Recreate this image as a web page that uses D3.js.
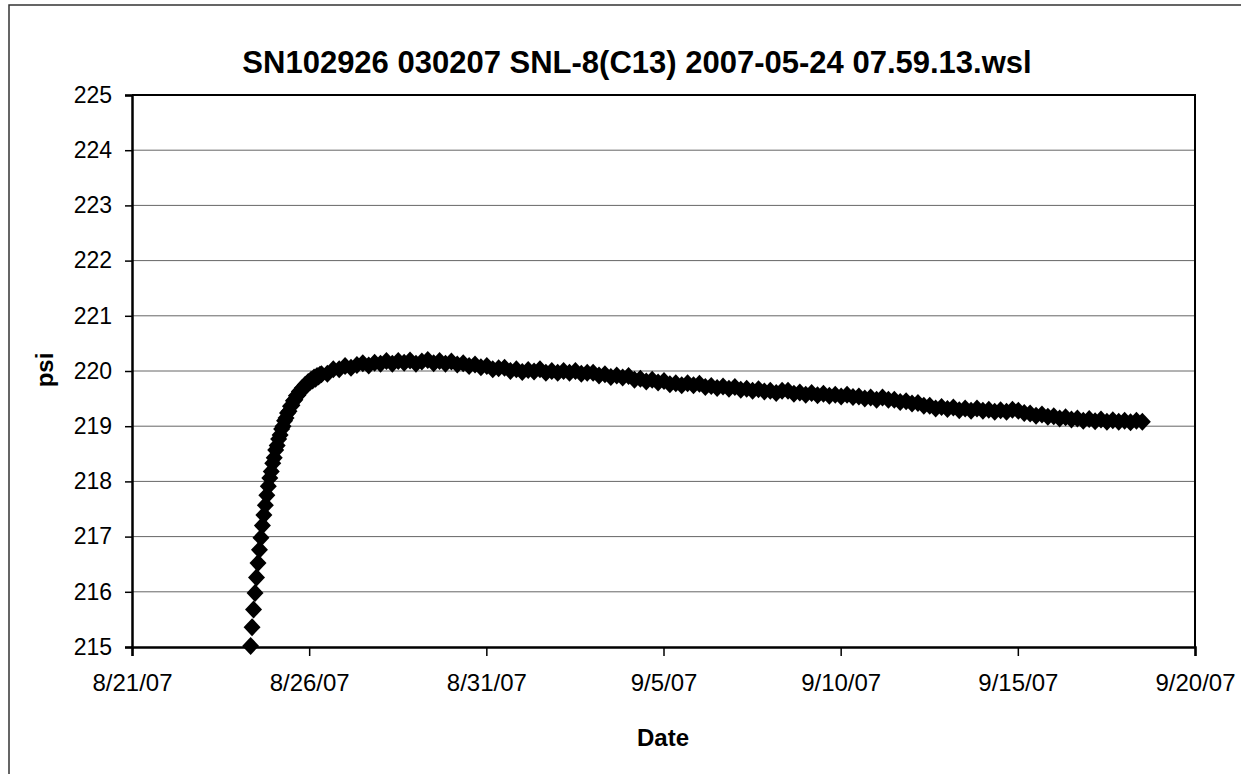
<!DOCTYPE html>
<html><head><meta charset="utf-8">
<script src="https://cdn.jsdelivr.net/npm/d3@7"></script>
<style>
body{margin:0;background:#fff}
svg{display:block}
text{font-family:Arial,"Liberation Sans",sans-serif;fill:#000}
</style>
</head><body>
<svg id="c" width="1241" height="774"></svg>
<script>
const chartTitle = "SN102926 030207 SNL-8(C13) 2007-05-24 07.59.13.wsl";
const xAxisTitle = "Date";
const yAxisTitle = "psi";
const xTickLabels = ["8/21/07","8/26/07","8/31/07","9/5/07","9/10/07","9/15/07","9/20/07"];
const yTickValues = [215,216,217,218,219,220,221,222,223,224,225];

// hourly readings during the initial rise
const riseStart = "2007-08-24T08:20";
const riseStepHours = 1;
const riseValues = [215.02,215.36,215.68,215.98,216.26,216.52,216.76,216.98,217.20,217.39,
  217.57,217.75,217.91,218.06,218.18,218.33,218.43,218.57,218.65,218.77,
  218.84,218.95,219.00,219.10,219.15,219.24,219.27,219.36,219.38,219.46,
  219.48,219.55,219.56,219.63,219.63,219.69,219.69,219.75,219.75,219.80,
  219.79,219.84,219.83,219.88,219.86,219.91,219.90,219.93];

// readings after the rise (every 4 hours)
const trendStepHours = 4;
const trendValues = [219.94,219.95,220.03,220.03,220.09,220.06,220.11,220.14,220.10,220.15,
  220.13,220.18,220.13,220.18,220.15,220.19,220.13,220.17,220.20,220.14,
  220.18,220.13,220.17,220.12,220.14,220.09,220.12,220.07,220.09,220.03,
  220.05,220.06,220.00,220.03,219.98,220.02,219.99,220.03,219.97,220.00,
  219.97,220.00,219.97,220.00,219.95,219.97,219.97,219.92,219.94,219.89,
  219.92,219.88,219.91,219.84,219.86,219.81,219.84,219.79,219.82,219.76,
  219.78,219.74,219.78,219.74,219.77,219.71,219.73,219.69,219.72,219.68,
  219.71,219.66,219.68,219.64,219.67,219.63,219.64,219.60,219.64,219.64,
  219.59,219.61,219.57,219.60,219.56,219.59,219.55,219.57,219.54,219.57,
  219.53,219.54,219.50,219.52,219.48,219.52,219.48,219.48,219.44,219.45,
  219.41,219.42,219.37,219.37,219.32,219.35,219.31,219.34,219.29,219.32,
  219.28,219.32,219.28,219.30,219.26,219.29,219.26,219.30,219.28,219.24,
  219.23,219.19,219.21,219.17,219.18,219.14,219.16,219.12,219.14,219.10,
  219.13,219.09,219.12,219.08,219.11,219.08,219.10,219.07,219.10,219.08];

const svg = d3.select("#c");
const parseTick = d3.timeParse("%m/%d/%y");
const parseStart = d3.timeParse("%Y-%m-%dT%H:%M");
const tickDates = xTickLabels.map(parseTick);

const margin = {left:132, right:1195, top:95, bottom:647};
const x = d3.scaleTime().domain([tickDates[0], tickDates[tickDates.length-1]]).range([margin.left, margin.right]);
const y = d3.scaleLinear().domain([yTickValues[0], yTickValues[yTickValues.length-1]]).range([margin.bottom, margin.top]);

const t0 = parseStart(riseStart);
const data = [];
riseValues.forEach((v,i)=>data.push({t:d3.timeHour.offset(t0, i*riseStepHours), v}));
const t1 = d3.timeHour.offset(t0, riseValues.length*riseStepHours);
trendValues.forEach((v,i)=>data.push({t:d3.timeHour.offset(t1, i*trendStepHours), v}));

// outer chart border (left & top visible)
svg.append("path").attr("d","M9,800V5H1300").attr("fill","none").attr("stroke","#333").attr("stroke-width",1.5);

// gridlines
svg.append("g").selectAll("line").data(yTickValues.slice(1,-1)).join("line")
  .attr("x1",margin.left).attr("x2",margin.right)
  .attr("y1",d=>y(d)).attr("y2",d=>y(d))
  .attr("stroke","#666").attr("stroke-width",1);

// plot frame top/right
svg.append("path").attr("d",`M${margin.left},${margin.top}H${margin.right}V${margin.bottom}`)
  .attr("fill","none").attr("stroke","#000").attr("stroke-width",2);

// markers
const diamond = "M0,-9L8.5,0L0,9L-8.5,0Z";
svg.append("g").selectAll("path").data(data).join("path")
  .attr("d",diamond)
  .attr("transform",d=>`translate(${x(d.t)},${y(d.v)})`)
  .attr("fill","#000");

// axes
const xAxis = d3.axisBottom(x).tickValues(tickDates).tickFormat((d,i)=>xTickLabels[i]).tickSize(9).tickPadding(18);
const gx = svg.append("g").attr("transform",`translate(0,${margin.bottom})`).call(xAxis);
gx.select(".domain").attr("stroke","#000").attr("stroke-width",2.5);
gx.selectAll(".tick line").attr("stroke","#000").attr("stroke-width",1.5);
gx.selectAll("text").attr("font-size",24).attr("dy","0.71em").attr("font-family","Arial, 'Liberation Sans', sans-serif");

const yAxis = d3.axisLeft(y).tickValues(yTickValues).tickFormat(d3.format("d")).tickSize(7).tickPadding(13);
const gy = svg.append("g").attr("transform",`translate(${margin.left},0)`).call(yAxis);
gy.select(".domain").attr("stroke","#000").attr("stroke-width",2.5);
gy.selectAll(".tick line").attr("stroke","#000").attr("stroke-width",1.5);
gy.selectAll("text").attr("font-size",23).attr("font-family","Arial, 'Liberation Sans', sans-serif");

// titles
svg.append("text").attr("x",637).attr("y",73).attr("text-anchor","middle")
  .attr("font-size",31).attr("font-weight","bold").text(chartTitle);
svg.append("text").attr("x",663).attr("y",746).attr("text-anchor","middle")
  .attr("font-size",24).attr("font-weight","bold").text(xAxisTitle);
svg.append("text").attr("transform","translate(53,370) rotate(-90)").attr("text-anchor","middle")
  .attr("font-size",24).attr("font-weight","bold").text(yAxisTitle);
</script>
</body></html>
